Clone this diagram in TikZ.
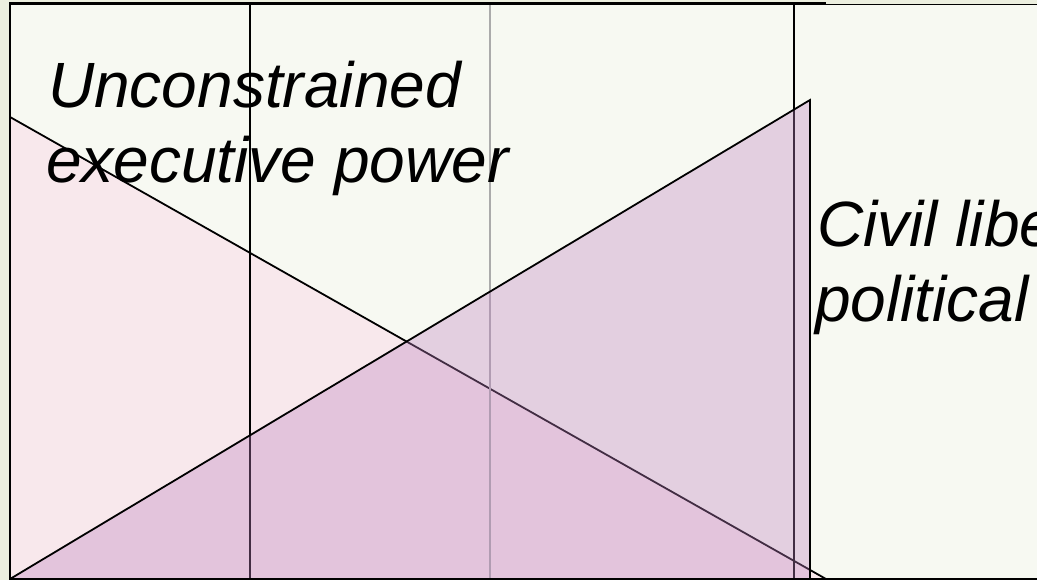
\documentclass[tikz,border=0pt]{standalone}
\usepackage{fontspec}
\setmainfont{Liberation Sans}
\definecolor{outerbg}{HTML}{ECEFDF}
\definecolor{innerbg}{HTML}{F7F9F2}
\definecolor{pinkfill}{HTML}{F8E8EC}
\definecolor{purplefill}{RGB}{190,129,193}
\definecolor{gridgray}{HTML}{ABABAB}
\tikzset{
  frameline/.style={line width=2.2pt, black},
  gridline/.style={line width=1.8pt, black},
  softgrid/.style={line width=1.8pt, gridgray},
  tri/.style={line width=1.8pt, black, line join=miter},
  label/.style={anchor=base west, inner sep=0pt, font=\fontsize{64}{75}\selectfont\itshape}
}
\begin{document}
\begin{tikzpicture}[x=1pt, y=-1pt]
\useasboundingbox (0,0) rectangle (1037,580);
\clip (0,0) rectangle (1037,580);
% backgrounds
\fill[outerbg] (0,0) rectangle (1037,580);
\fill[innerbg] (10,4) rectangle (1037,579);
% key points
\coordinate (pinkTop) at (10,117);
\coordinate (pinkBL) at (10,579);
\coordinate (pinkBR) at (826,579);
\coordinate (purTop) at (810,100);
\coordinate (purBR) at (810,579);
% pink triangle
\filldraw[tri, fill=pinkfill] (pinkTop) -- (pinkBR) -- (pinkBL) -- cycle;
% vertical grid lines
\coordinate (g1t) at (250,4); \coordinate (g1b) at (250,579);
\coordinate (g2t) at (490,4); \coordinate (g2b) at (490,579);
\coordinate (g3t) at (794,4); \coordinate (g3b) at (794,579);
\draw[gridline] (g1t) -- (g1b);
\draw[softgrid] (g2t) -- (g2b);
\draw[gridline] (g3t) -- (g3b);
% purple triangle
\fill[purplefill, fill opacity=0.35] (pinkBL) -- (purTop) -- (purBR) -- cycle;
\draw[tri] (pinkBL) -- (purTop) -- (purBR);
% frame
\coordinate (fTL) at (10,3.5);
\coordinate (fTM) at (826,3.5);
\coordinate (fTR) at (1037,4.5);
\coordinate (fTM2) at (826,4.5);
\coordinate (fBL) at (10,579);
\coordinate (fBR) at (1037,579);
\draw[frameline] (fBL) -- (fTL) -- (fTM);
\draw[line width=1.4pt] (fTM2) -- (fTR);
\draw[frameline] (fBL) -- (fBR);
% labels
\node[label] (t1a) at (48,108) {Unconstrained};
\node[label] (t1b) at (46,183) {executive power};
\node[label] (t2a) at (817,247) {Civil liberties and};
\node[label] (t2b) at (815,322) {political rights};
\end{tikzpicture}
\end{document}
